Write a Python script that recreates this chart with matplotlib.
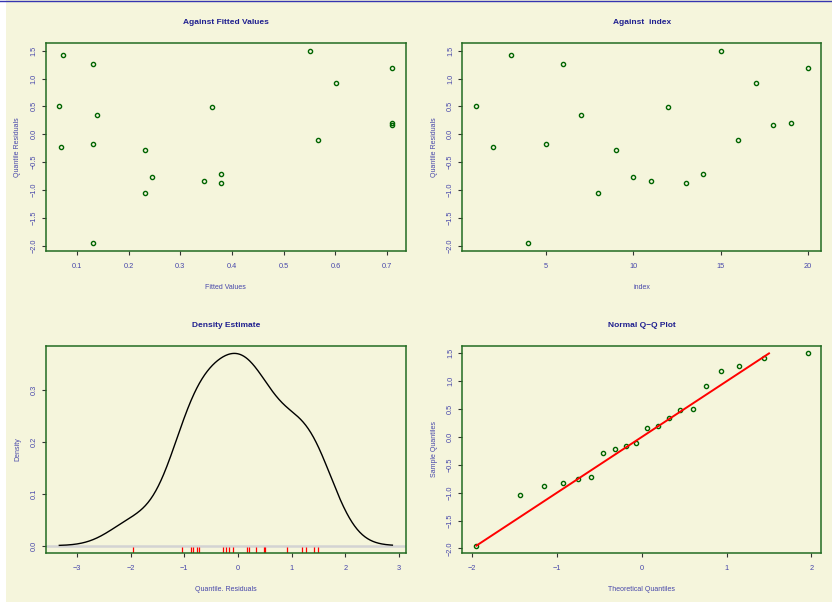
import matplotlib
matplotlib.use("Agg")
import matplotlib.pyplot as plt
import numpy as np
from matplotlib.lines import Line2D
from matplotlib.patches import Rectangle

plt.rcParams['font.family'] = ['Liberation Sans Narrow', 'Liberation Sans', 'DejaVu Sans']

# quantile residuals, in observation order
index = list(range(1, 21))
resid = [0.51, -0.22, 1.42, -1.95, -0.17, 1.27, 0.34, -1.05, -0.28, -0.76,
         -0.83, 0.49, -0.88, -0.72, 1.50, -0.10, 0.92, 0.16, 0.20, 1.19]
fitted = [0.066, 0.070, 0.074, 0.131, 0.131, 0.131, 0.139, 0.232, 0.232, 0.245,
          0.346, 0.361, 0.378, 0.378, 0.550, 0.567, 0.601, 0.710, 0.710, 0.710]
# normal scores for n = 20
theo_q = [-1.960, -1.440, -1.150, -0.935, -0.755, -0.598, -0.454, -0.319, -0.189, -0.063,
          0.063, 0.189, 0.319, 0.454, 0.598, 0.755, 0.935, 1.150, 1.440, 1.960]

BG = '#f5f5dc'
FRAME = '#226b22'
PT = '#006400'
TITLE_C = '#1f1f8f'
LAB_C = '#4646aa'

fig = plt.figure(figsize=(8.32, 6.02), dpi=100, facecolor=BG)
fig.patches.append(Rectangle((0, 0), 6 / 832, 1, transform=fig.transFigure,
                             facecolor='white', edgecolor='none', zorder=-1))
fig.lines.append(Line2D([0, 1], [1 - 0.6 / 602, 1 - 0.6 / 602], transform=fig.transFigure,
                        color='#3535b0', lw=1.0))

W, H = 832, 602
def make_ax(left, top, right, bottom):
    return fig.add_axes([left / W, 1 - bottom / H, (right - left) / W, (bottom - top) / H])

ax1 = make_ax(46, 43, 405.7, 250.7)
ax2 = make_ax(462.3, 43, 821.3, 250.7)
ax3 = make_ax(46, 345.7, 405.7, 553.3)
ax4 = make_ax(462.3, 345.7, 821.3, 553.3)


def r_limits(vals):
    lo, hi = min(vals), max(vals)
    m = 0.04 * (hi - lo)
    return lo - m, hi + m


def style(ax, title, xlabel, ylabel, xticks, yticks, xfmt, yfmt):
    ax.set_facecolor(BG)
    for s in ax.spines.values():
        s.set_color(FRAME)
        s.set_linewidth(1.1)
    ax.set_xticks(xticks)
    ax.set_yticks(yticks)
    ax.set_xticklabels([xfmt.format(t).replace('-', '\u2212') for t in xticks])
    ax.set_yticklabels([yfmt.format(t).replace('-', '\u2212') for t in yticks],
                       rotation=90, va='center')
    ax.tick_params(axis='x', length=3, width=0.8, color='#333333', labelsize=5.3,
                   labelcolor=LAB_C, pad=5.5)
    ax.tick_params(axis='y', length=3, width=0.8, color='#333333', labelsize=5.3,
                   labelcolor=LAB_C, pad=3)
    h = ax.get_position().height * H
    w = ax.get_position().width * W
    ax.set_title(title, fontsize=6, fontweight='bold', color=TITLE_C,
                 y=1 + 20.5 / h, pad=0, va='center')
    ax.set_xlabel(xlabel, fontsize=5, color=LAB_C)
    ax.xaxis.set_label_coords(0.5, -36.5 / h)
    ax.xaxis.label.set_va('center')
    ax.set_ylabel(ylabel, fontsize=5, color=LAB_C)
    ax.yaxis.set_label_coords(-28 / w, 0.5)
    ax.yaxis.label.set_va('center')


res_ticks = [-2.0, -1.5, -1.0, -0.5, 0.0, 0.5, 1.0, 1.5]
mk = dict(marker='o', ms=3.0, mfc='none', mec=PT, mew=1.0, ls='none')

# residuals against fitted values
ax1.plot(fitted, resid, **mk)
ax1.set_xlim(r_limits(fitted))
ax1.set_ylim(r_limits(resid))
style(ax1, 'Against Fitted Values', 'Fitted Values', 'Quantile Residuals',
      [0.1, 0.2, 0.3, 0.4, 0.5, 0.6, 0.7], res_ticks, '{:.1f}', '{:.1f}')

# residuals against index
ax2.plot(index, resid, **mk)
ax2.set_xlim(r_limits(index))
ax2.set_ylim(r_limits(resid))
style(ax2, 'Against  index', 'index', 'Quantile Residuals',
      [5, 10, 15, 20], res_ticks, '{:d}', '{:.1f}')

# kernel density of the residuals (gaussian, nrd0 bandwidth, cut = 3)
r = np.array(resid)
q1, q3 = np.percentile(r, [25, 75])
bw = 0.9 * min(r.std(ddof=1), (q3 - q1) / 1.34) * len(r) ** -0.2
gx = np.linspace(r.min() - 3 * bw, r.max() + 3 * bw, 512)
gy = np.exp(-0.5 * ((gx[:, None] - r[None, :]) / bw) ** 2).sum(axis=1) / (len(r) * bw * np.sqrt(2 * np.pi))
ax3.axhline(0, color='#d3d3d3', lw=1.8, zorder=1)
ax3.plot(gx, gy, color='black', lw=1.0, zorder=3)
ax3.vlines(r, 0, 0.03, transform=ax3.get_xaxis_transform(), color='red', lw=0.9, zorder=2)
ax3.set_xlim(r_limits(gx))
ax3.set_ylim(r_limits([0, gy.max()]))
style(ax3, 'Density Estimate', 'Quantile. Residuals', 'Density',
      [-3, -2, -1, 0, 1, 2, 3], [0.0, 0.1, 0.2, 0.3], '{:d}', '{:.1f}')

# normal Q-Q plot with the identity line over the residual range
rs = sorted(resid)
ax4.plot(theo_q, rs, **mk)
ax4.plot(rs, rs, color='red', lw=1.4)
ax4.set_xlim(r_limits(theo_q))
ax4.set_ylim(r_limits(resid))
style(ax4, 'Normal Q\u2212Q Plot', 'Theoretical Quantiles', 'Sample Quantiles',
      [-2, -1, 0, 1, 2], res_ticks, '{:d}', '{:.1f}')

fig.savefig('out.png', dpi=100, facecolor=BG)
